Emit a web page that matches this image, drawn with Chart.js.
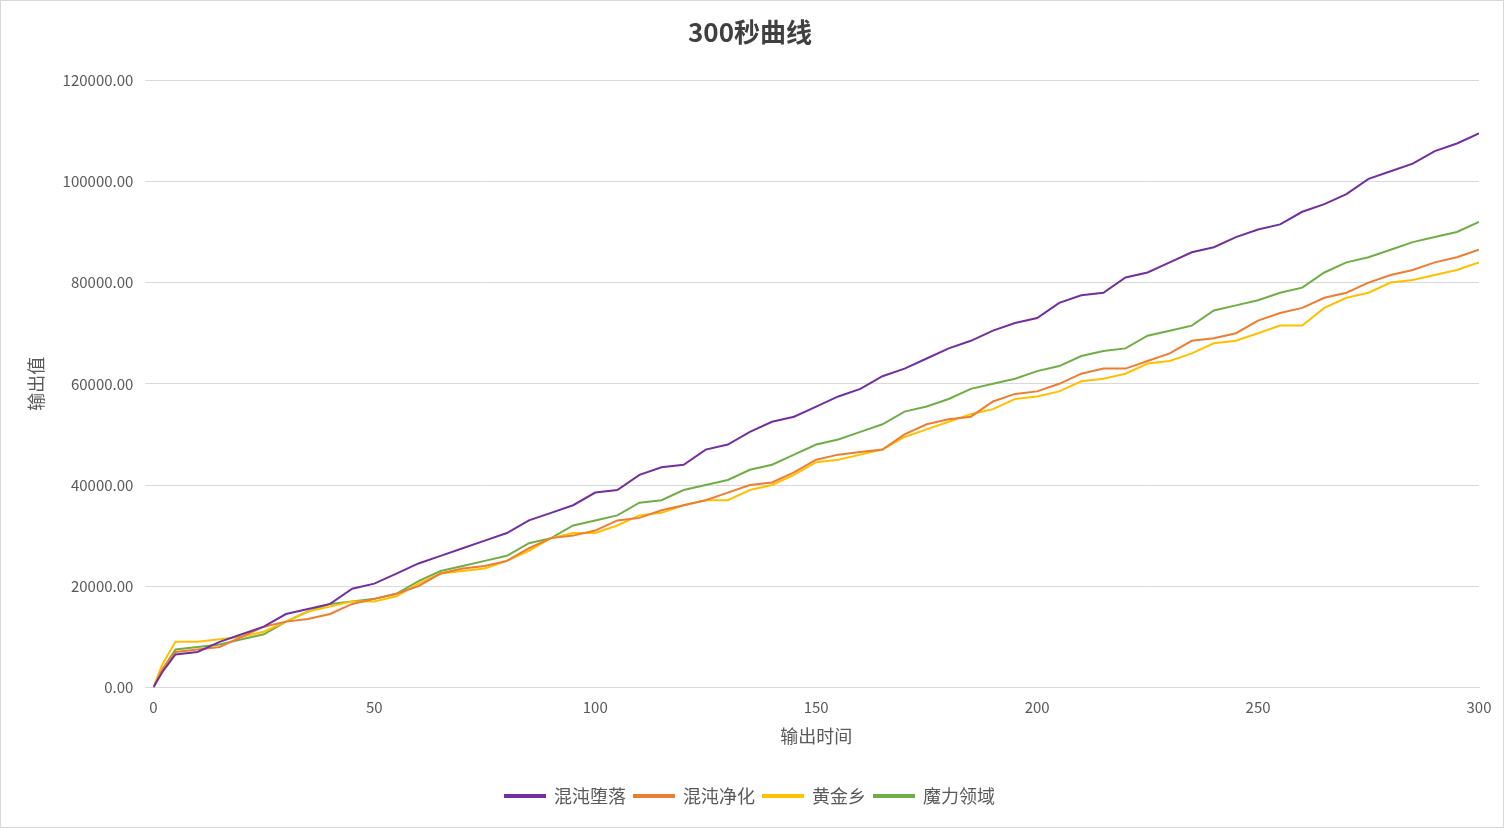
<!DOCTYPE html>
<html><head><meta charset="utf-8">
<script src="https://cdn.jsdelivr.net/npm/chart.js@4/dist/chart.umd.min.js"></script>
<style>
body{margin:0;background:#fff;}
#wrap{position:absolute;left:0;top:0;width:1502px;height:826px;border:1px solid #d9d9d9;}
</style></head>
<body><div id="wrap"><canvas id="c"></canvas></div>
<script>
const times = [0,2,5,10,15,20,25,30,35,40,45,50,55,60,65,70,75,80,85,90,95,100,105,110,115,120,125,130,135,140,145,150,155,160,165,170,175,180,185,190,195,200,205,210,215,220,225,230,235,240,245,250,255,260,265,270,275,280,285,290,295,300];
const seriesNames = ['混沌堕落','混沌净化','黄金乡','魔力领域'];
const chaosFall = [0,3000,6500,7000,9000,10500,12000,14500,15500,16500,19500,20500,22500,24500,26000,27500,29000,30500,33000,34500,36000,38500,39000,42000,43500,44000,47000,48000,50500,52500,53500,55500,57500,59000,61500,63000,65000,67000,68500,70500,72000,73000,76000,77500,78000,81000,82000,84000,86000,87000,89000,90500,91500,94000,95500,97500,100500,102000,103500,106000,107500,109500];
const chaosPurify = [0,3500,7000,7500,8000,10000,12000,13000,13500,14500,16500,17500,18500,20000,22500,23500,24000,25000,27500,29500,30000,31000,33000,33500,35000,36000,37000,38500,40000,40500,42500,45000,46000,46500,47000,50000,52000,53000,53500,56500,58000,58500,60000,62000,63000,63000,64500,66000,68500,69000,70000,72500,74000,75000,77000,78000,80000,81500,82500,84000,85000,86500];
const eldorado = [0,4500,9000,9000,9500,10000,11000,13000,15000,16000,17000,17000,18000,20500,22500,23000,23500,25000,27000,29500,30500,30500,32000,34000,34500,36000,37000,37000,39000,40000,42000,44500,45000,46000,47000,49500,51000,52500,54000,55000,57000,57500,58500,60500,61000,62000,64000,64500,66000,68000,68500,70000,71500,71500,75000,77000,78000,80000,80500,81500,82500,84000];
const magicField = [0,3500,7500,8000,8500,9500,10500,13000,15000,16500,17000,17500,18500,21000,23000,24000,25000,26000,28500,29500,32000,33000,34000,36500,37000,39000,40000,41000,43000,44000,46000,48000,49000,50500,52000,54500,55500,57000,59000,60000,61000,62500,63500,65500,66500,67000,69500,70500,71500,74500,75500,76500,78000,79000,82000,84000,85000,86500,88000,89000,90000,92000];
const colors = ['#7030a0','#ed7d31','#ffc000','#70ad47'];

const c = document.getElementById('c');
c.width = 1502; c.height = 826;
const font = '"Microsoft YaHei","Noto Sans CJK SC",sans-serif';
new Chart(c, {
  type: 'line',
  data: {
    datasets: [chaosFall, chaosPurify, eldorado, magicField].map((s, i) => ({
      label: seriesNames[i],
      data: s.map((v, j) => ({ x: times[j], y: v })),
      borderColor: colors[i],
      backgroundColor: colors[i],
      borderWidth: 2,
      pointRadius: 0,
      tension: 0
    }))
  },
  options: {
    responsive: false,
    animation: false,
    layout: { padding: { left: 20, right: 24, top: 10, bottom: 12 } },
    scales: {
      x: {
        type: 'linear', min: 0, max: 300,
        ticks: { stepSize: 50, color: '#595959', font: { size: 15, family: font } },
        grid: { display: false },
        border: { color: '#d9d9d9' },
        title: { display: true, text: '输出时间', color: '#595959', font: { size: 18, family: font }, padding: { top: 6, bottom: 32 } }
      },
      y: {
        min: 0, max: 120000,
        ticks: { stepSize: 20000, color: '#595959', font: { size: 15, family: font }, callback: v => v.toFixed(2), padding: 12 },
        grid: { color: '#d9d9d9' },
        border: { display: false },
        title: { display: true, text: '输出值', color: '#595959', font: { size: 18, family: font } }
      }
    },
    plugins: {
      title: { display: true, text: '300秒曲线', color: '#404040', font: { size: 26, weight: 'bold', family: font }, padding: { top: 6, bottom: 32 } },
      legend: {
        position: 'bottom',
        labels: { boxWidth: 40, boxHeight: 2, color: '#595959', font: { size: 18, family: font }, padding: 8 }
      },
      tooltip: { enabled: false }
    }
  }
});
</script></body></html>
